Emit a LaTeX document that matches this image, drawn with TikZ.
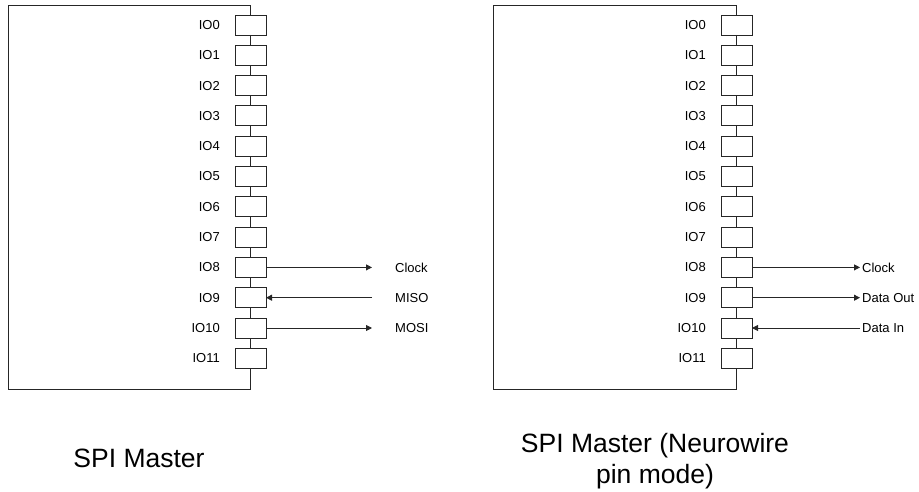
\documentclass[tikz,border=0pt]{standalone}
\usepackage{fontspec}
\setmainfont{Liberation Sans}
\usetikzlibrary{arrows.meta}
\begin{document}
\begin{tikzpicture}[x=1pt,y=-1pt,
  pin/.style={draw=black!85, line width=0.9pt, minimum width=31pt, minimum height=20pt, inner sep=0pt, outer sep=0pt},
  lbl/.style={font=\fontsize{13}{15}\selectfont, inner sep=0pt},
  wire/.style={line width=0.9pt, draw=black!85},
  sig/.style={wire, -{Triangle[length=6pt,width=6pt]}},
  title/.style={font=\fontsize{26.5}{31}\selectfont, align=center, inner sep=0pt}]
\useasboundingbox (0,0) rectangle (919,492);
% pins of both blocks
\foreach \i in {0,...,11} {
  \node[pin] (a\i) at (250.5, {25+30.3*\i}) {};
  \node[lbl, anchor=east] (la\i) at (220, {25+30.3*\i}) {IO\i};
  \node[pin] (b\i) at (736.5, {25+30.3*\i}) {};
  \node[lbl, anchor=east] (lb\i) at (706, {25+30.3*\i}) {IO\i};
}
\foreach \i in {0,...,10} {
  \pgfmathtruncatemacro\j{\i+1}
  \draw[wire] (a\i.south) -- (a\j.north);
  \draw[wire] (b\i.south) -- (b\j.north);
}
% block outlines
\coordinate (atop) at (250.5,5); \coordinate (atl) at (8,5);
\coordinate (abl) at (8,389); \coordinate (abot) at (250.5,389);
\draw[wire] (a0.north) -- (atop) -- (atl) -- (abl) -- (abot) -- (a11.south);
\coordinate (btop) at (736.5,5); \coordinate (btl) at (493,5);
\coordinate (bbl) at (493,389); \coordinate (bbot) at (736.5,389);
\draw[wire] (b0.north) -- (btop) -- (btl) -- (bbl) -- (bbot) -- (b11.south);
% left signals
\node[lbl, anchor=west] (lck) at (395, {25+30.3*8}) {Clock};
\node[lbl, anchor=west] (lmiso) at (395, {25+30.3*9}) {MISO};
\node[lbl, anchor=west] (lmosi) at (395, {25+30.3*10}) {MOSI};
\coordinate (eck) at (372, {25+30.3*8});
\coordinate (emiso) at (372, {25+30.3*9});
\coordinate (emosi) at (372, {25+30.3*10});
\draw[sig] (a8.east) -- (eck);
\draw[sig] (emiso) -- (a9.east);
\draw[sig] (a10.east) -- (emosi);
% right signals
\node[lbl, anchor=west] (rck) at (862, {25+30.3*8}) {Clock};
\node[lbl, anchor=west] (rdo) at (862, {25+30.3*9}) {Data Out};
\node[lbl, anchor=west] (rdi) at (862, {25+30.3*10}) {Data In};
\draw[sig] (b8.east) -- ([xshift=-2pt]rck.west);
\draw[sig] (b9.east) -- ([xshift=-2pt]rdo.west);
\draw[sig] ([xshift=-2pt]rdi.west) -- (b10.east);
% titles
\node[title, anchor=base] (t1) at (139,467) {SPI Master};
\node[title, anchor=base] (t2) at (655,483) {SPI Master (Neurowire\\pin mode)};
\end{tikzpicture}
\end{document}
